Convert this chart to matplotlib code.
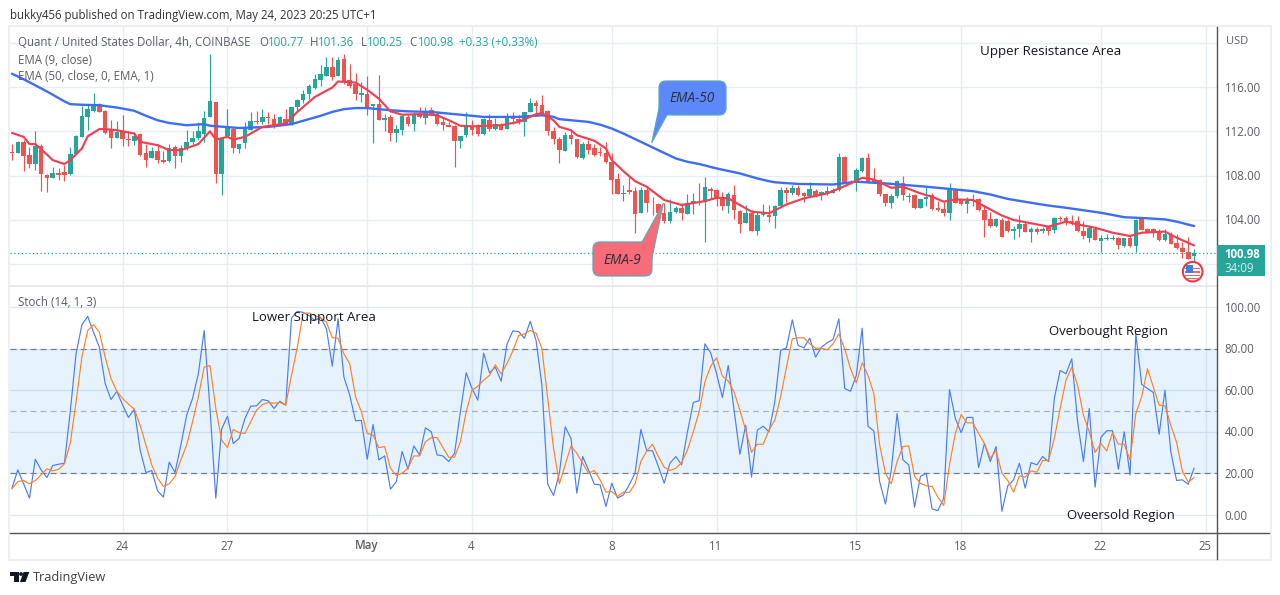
import matplotlib
matplotlib.use("Agg")
import matplotlib.pyplot as plt
from matplotlib.patches import FancyBboxPatch, Polygon, Circle, Rectangle

# candles, 4h
open_px = [110.15,110.05,111,109.85,109.05,110.7,108.05,107.75,108.2,108.3,
    108.15,109.95,111.5,113.25,113.85,114.45,113.85,112.15,111.4,112,
    111.3,111.15,111.8,110,109.6,110.2,109.45,109.35,110.6,109.8,
    110.5,111,111.4,111.8,113.3,114.65,108.15,111.55,112.25,110.4,
    110.95,112.15,112.9,112.8,113.25,113.15,112.65,113.15,112.7,114.15,
    114.8,115.35,115.9,116.6,116.95,117.85,116.95,118.55,116.65,116.25,
    115.3,115.4,114.25,114.45,113.05,113.25,111.85,112.15,113.3,112.65,
    113.6,113.2,113.9,113.55,112.85,112.55,112.45,111.1,111.65,112.45,
    112.4,111.75,113.05,112.25,112.55,112.2,113.2,113.15,112.85,113.75,
    114.6,114.35,113.85,112,111.35,110.25,111.65,111.3,109.55,110.9,
    110.45,110.15,110,109.25,107.7,106.3,106.7,106.6,104.6,106.7,
    105.45,105.45,104.6,103.95,104.75,105.1,104.55,105.55,105.65,105.6,
    106.8,106.7,106.1,105.3,106.25,104.8,103.75,104.65,103,104.45,
    104.45,104.4,105.3,106.7,106.45,106.85,106.4,106.15,106.6,106.25,
    106.35,106.45,106.7,109.7,107.45,107.3,108.45,109.55,107.6,107.6,
    106.3,105.55,106.15,107.35,106.1,106.25,105.1,105.85,106.25,105.1,
    104.95,104.6,106.75,105.8,105.4,105.7,105.85,104.9,104.1,103.45,
    104,103.95,103,103.15,103.65,102.95,103.15,103,103.35,103.05,
    104.15,104.15,103.9,103.9,103,102.4,103.15,102.1,102.3,102.3,
    102.35,101.65,102.4,101.65,104.05,103.2,103.15,102.9,102.15,102.6,
    101.95,101.5,101.15,100.77]
high_px = [110.9,111.1,111.2,110.6,112,110.9,108.15,108.75,108.65,108.95,
    110.6,111.65,114.25,114.4,115.5,114.55,113.9,113,112.95,113.5,
    112,111.95,111.85,110.85,110.6,110.85,110.25,110.85,110.8,110.8,
    112.1,112,112.85,113.8,119,114.65,111.4,114,112.4,110.9,
    112.8,113.75,113.8,114,113.75,113.6,113.4,114,114.2,114.95,
    115.7,116.3,117.15,117.95,118.7,118.7,118.75,119,118.1,117.25,
    116.45,116.95,114.5,117.05,113.6,113.45,112.55,113.45,113.45,113.7,
    114.2,114.15,114.15,113.75,113.25,112.85,112.55,111.55,113.7,113,
    112.7,113.2,113.6,113.2,112.75,113.65,113.75,113.45,113.7,115,
    114.8,115.25,113.9,112.4,111.5,111.95,112,111.35,111.05,111.2,
    110.9,110.6,111.05,110,108.2,107.15,107.9,107,107,107,
    106.1,105.5,105.5,105.85,105.3,105.5,106.35,106.4,107.3,107.9,
    107,106.75,106.55,106.55,107.15,104.9,105.35,104.9,104.75,105.4,
    105.35,105.35,107,107,107.15,107.15,106.5,107.45,106.75,106.6,
    107.05,106.85,110,109.8,107.6,108.65,109.65,110.05,108.7,107.7,
    106.35,106.3,107.6,107.95,106.45,106.35,105.9,107,106.4,105.7,
    105.6,107.3,106.9,105.9,106.1,106.3,105.95,105.35,104.7,104.2,
    104.2,104.05,103.45,104.45,103.9,103.35,103.35,103.35,103.5,104.3,
    104.35,104.35,104.45,104.4,103.9,103.55,103.35,102.6,102.75,102.6,
    102.5,102.4,102.6,104.05,104.25,103.3,103.25,103.15,103.15,102.9,
    102.75,102,102.45,101.36]
low_px = [109.45,110.05,108.4,108.65,108.5,106.6,106.55,107.75,107.6,107.5,
    108.05,109.95,111.45,112.15,113.75,113.7,111.8,110.5,111.4,110.7,
    110.7,110.75,109.8,108.8,109.6,109.1,109.1,109.2,108.7,109.25,
    110.3,110.9,111.2,111.05,113.3,107.35,106.25,111.55,110.05,110.05,
    110.45,112.1,112.7,112.7,112.7,112.3,112.45,112.55,112.55,113.75,
    114.55,114.95,115.85,116.05,116.95,116.65,116.95,116.3,115.95,114.8,
    114.65,113.45,110.95,113,112.05,111.1,111.05,111.65,112.45,112.05,
    113.2,112.7,113.45,112.55,112.1,112.35,108.8,110.5,111.5,111.65,
    111.6,111.65,112,112.15,112.1,112.2,112.7,112.7,111.6,113.75,
    113.6,113.6,111.65,110.9,109.15,110.25,110.85,109.6,109.5,109.95,
    109.8,109.75,109.15,106.3,106.35,105.75,106.35,102.8,104.6,104.75,
    104.45,104.45,103.75,103.75,104.6,104,104.55,104.55,105.35,102.05,
    106,105.25,104.9,104.6,104.1,102.85,103.7,103,102.65,104.4,
    103.85,103.3,105.25,105.6,106.25,106.15,105.65,106.15,106.1,105.8,
    106.25,106.4,106.65,107.3,107.25,106.6,108.35,107.35,107.3,106.15,
    105.3,105.1,105.95,105.8,105.6,105,105.05,105.25,104.9,104.85,
    104.35,104,105.5,105.35,104.6,105.3,104.85,102.5,103.4,103.35,
    102.5,102.95,102.3,102.5,102.9,102,102.7,102.85,102.6,102.8,
    103.95,103.55,103.55,102.95,102.25,102,102.15,101.1,102.2,102.2,
    101.35,101.6,101.6,101.1,103.05,102.85,102.45,102.1,102.1,101.8,
    101.35,100.6,100.5,100.25]
close_px = [110.05,111,109.75,109.05,110.7,108.15,107.75,108.2,108.05,108.05,
    109.95,111.55,113.35,114,114.45,113.75,111.85,111.4,111.95,111.3,
    111.2,111.55,109.85,109.4,110.2,109.4,109.2,110.45,109.75,110.5,
    111,111.4,112,113.2,114.7,108.15,111.4,112.3,110.5,110.85,
    112.2,112.9,112.8,113.25,113.2,112.6,113.3,112.7,114.15,114.8,
    115.35,116.05,116.75,117.2,117.85,116.9,118.4,116.55,116.05,115.35,
    115.5,114.15,114.45,113,113.2,111.85,112.2,113.4,112.65,113.6,
    113.25,113.8,113.55,112.65,112.6,112.4,111.1,111.55,112.55,112.15,
    111.75,113.1,112.25,112.7,112.15,113.25,113.1,112.95,113.7,114.6,
    114.3,113.65,112,111.3,110.3,111.7,111.3,109.65,110.85,110.3,
    109.85,110,109.25,107.6,106.35,106.45,106.55,104.55,106.7,105.5,
    105.4,104.6,103.95,104.7,105.1,104.6,105.55,105.7,105.5,106.95,
    106.65,105.95,105.25,106.35,104.9,103.65,104.6,103,104.45,104.55,
    104.3,105.25,106.7,106.45,106.85,106.25,106.15,106.8,106.15,106.5,
    106.6,106.7,109.65,107.3,107.3,108.5,109.6,107.45,107.35,106.3,
    105.55,106.15,107.5,106.25,106.2,105.1,105.85,106.05,105,104.9,
    104.65,106.85,105.5,105.4,105.7,105.75,104.9,104,103.5,104.05,
    102.5,103,103.2,103.6,102.95,103.2,102.95,103.15,103,104.15,
    104.1,103.9,103.85,103,102.55,103.3,102.2,102.35,102.4,102.4,
    101.7,102.35,101.65,104,103.1,102.9,102.85,102.15,102.7,101.85,
    101.45,101.1,100.5,100.98]

# moving averages, read at the bends only
ema9_idx = [0,2,3,4,6,7,9,10,12,13,15,16,18,21,22,25,27,29,32,34,35,37,38,40,43,47,49,52,55,56,59,61,63,65,67,
    70,73,75,77,79,84,87,90,91,93,94,96,97,100,102,103,105,107,109,112,115,119,121,123,125,127,130,133,136,140,
    143,146,148,151,153,156,158,160,162,165,168,170,172,175,178,181,183,186,189,192,194,198,200,203]
ema9_val = [111.85,111.5,110.85,110.85,109.9,109.4,109.05,109.4,110.45,111.55,112.2,112.2,112.1,111.8,111.05,110.75,110.3,110.3,110.85,112,111.25,111.5,111.25,111.5,112.4,112.7,113.75,115.1,115.95,116.5,116.4,115.75,114.95,113.8,113.5,
    113.55,113.45,113,112.5,112.45,112.55,112.85,113.55,113.65,113,112.4,112.1,111.65,111.15,110.45,109.4,108.4,107.5,107,105.8,105.35,105.7,106,105.95,105.35,104.75,104.6,105.4,105.95,106.4,
    107.05,107.8,107.65,106.9,107,106.4,106.1,105.65,105.85,105.8,104.95,104.4,104,103.7,103.4,103.85,103.6,103.3,102.85,102.55,102.85,102.95,102.4,101.7]
ema50_idx = [0,2,4,6,8,9,10,12,15,18,21,23,25,27,30,33,34,39,44,48,50,53,55,57,59,61,63,65,
    68,72,76,81,87,91,93,94,96,99,101,103,105,107,110,114,116,118,121,125,128,130,131,135,141,
    145,150,157,165,168,171,175,178,181,187,191,195,198,200,203]
ema50_val = [117.2,116.7,116.15,115.6,115,114.7,114.45,114.4,114.35,114.15,113.85,113.4,113,112.75,112.55,112.65,112.5,112.3,112.4,112.65,112.95,113.4,113.75,114,114.1,114.1,114,113.9,
    113.8,113.75,113.55,113.3,113.3,113.45,113.3,113.1,113,112.85,112.6,112.25,111.8,111.3,110.55,109.55,109.25,109.05,108.65,108.2,107.75,107.5,107.4,107.25,107.2,
    107.45,107.3,107,106.6,106.3,105.9,105.55,105.3,105.1,104.65,104.25,104.15,104.05,103.85,103.45]

stoch_k = [12.9,21.7,15,8.1,26.8,21.7,18,23.8,24.4,24.9,49.6,77.5,91.4,95.5,87.9,80.7,63.2,55.5,59.5,52.8,
    46.9,50.9,31.3,20.4,21.4,11.6,8.6,25.4,20.4,33.7,48,56,67.9,88.7,51.2,8.1,41.3,47.5,34.4,36.8,
    46.4,52.3,52.5,55.5,54.9,51.2,54.7,52.8,94.7,97.9,97.4,95.9,93.5,95.1,89.5,71.6,94.3,66.3,57.6,45.3,
    45.5,26.8,43.5,26.5,28.4,12.4,16.1,30.5,22,33.2,28.9,41.9,40,28.9,28.4,25.7,29.7,49.6,68.4,60.8,
    55.2,77.8,68.4,71.1,64.3,82,88.5,88.2,85,93.1,83.9,62.4,14.8,9.4,20.1,42.4,36.8,10.5,28.1,21.7,
    14.8,14.5,4.1,15.3,8.1,9.7,14.5,20.1,41.1,30.9,30.9,23.3,15.3,24.9,28.1,24.1,40,54.1,54.9,82.3,
    77.8,67.9,56.5,71.9,50.4,29.2,43.2,18.2,40.8,42.7,40,54.4,79.1,80.4,93.8,81.5,80.4,85,75.9,80.7,
    82.8,84.4,94.3,60.8,59.5,67.1,89.8,42.7,40.4,16.1,5.3,21.7,48.8,26.5,24.1,3.8,18.5,20.1,3,2.1,
    8.1,60.3,46.4,39.6,46.9,46.9,22.8,34.4,25.7,32.9,1.8,14,16.9,24.9,12.9,25.2,24.1,28.1,25.7,56,
    69.5,67.9,75.1,44.8,25.7,51.2,13.4,37.3,40.5,40.5,22,40,19.3,87.1,62.8,60.8,58.9,38.8,60,30.5,
    16.6,16.9,14.8,22.5]
stoch_d = [12.6,16.1,16.6,15,16.6,19.3,22.2,21.2,22,24.6,34.4,54.4,75.9,88.7,91.5,87.9,75.9,65.6,59.5,56,
    53.3,50.9,43.2,33.7,24.1,17.7,13.7,15,18.5,26.5,33.7,44.8,56.8,71.1,71.9,51.2,36,32.5,41.1,39.6,
    39.2,44.8,50.4,53.1,54.1,53.7,54.1,52.8,67.1,80.7,97,97.1,95.9,94.7,92.7,85.2,85,77.5,72.7,56.8,
    49.6,39.2,38.4,32.4,32.9,22.5,19,20.1,22.5,28.4,28.4,35.2,37.2,37.2,32.5,27.8,27.8,35.2,49.6,60,
    61.9,64.8,67.1,72.2,67.9,72.7,78.8,86.3,87.1,88.7,87.4,79.9,56,32.1,15,24.1,33.2,29.7,24.9,20.1,
    21.4,16.9,11,11.3,8.9,11,10.8,15,25.7,30.8,34,28.1,23,21.4,22.5,25.2,31.3,40,49.6,64,
    71.6,75.6,66.8,64.4,59.2,50.4,40.8,30.1,34,34,40.8,45.6,56.8,71.1,84.7,85.2,85.2,82.3,80.2,80.2,
    79.4,82.3,87.1,79.9,70.3,63.5,73.2,67.1,58.4,33.7,20.1,15,25.7,32.9,33.2,18.5,15.3,14,13.7,8.6,
    4.6,24.1,39.2,48.3,44.3,44.3,39.2,34.4,27.3,30.9,20.1,16.6,11,18.8,18.2,21.2,20.6,26.2,26.2,36.8,
    51.2,64.8,71.1,62.4,48,40,30.1,34.4,30.8,39.6,34.1,34,26.5,48.8,56.8,70.3,61.6,52.8,52.5,43.2,
    34.9,20.9,15.8,18]

date_idx = [19,37,61,79,103,121,145,163,187,205]
date_labels = ["24","27","May","4","8","11","15","18","22","25"]
price_ticks = [116,112,108,104]
price_grid = [120,116,112,108,104,100]
stoch_ticks = [100,80,60,40,20,0]
last_price = 100.98

W, H = 1280, 595
GREEN, RED = "#26a69a", "#ef5350"
GRID = "#e6eef5"
TXT = "#5a5d68"
FS = 8.3
plt.rcParams["font.family"] = "Open Sans"


def px_axes(fig, x0, y0, x1, y1):
    return fig.add_axes([x0 / W, 1 - y1 / H, (x1 - x0) / W, (y1 - y0) / H])


fig = plt.figure(figsize=(12.8, 5.95), dpi=100)

# panes
ax = px_axes(fig, 10, 27, 1217, 285)
ax2 = px_axes(fig, 10, 286, 1217, 532)
for a in (ax, ax2):
    a.set_xlim((10 - 12) / 5.823, (1217 - 12) / 5.823)
    a.set_xticks([])
    a.set_yticks([])
    for s in a.spines.values():
        s.set_visible(False)
    for d in date_idx:
        a.axvline(d, color=GRID, lw=1, zorder=0)
ax.set_ylim(116 - (285 - 87) / 11.08, 116 + (87 - 27) / 11.08)
ax2.set_ylim(0 - (532 - 515) / 2.08, 100 + (307 - 286) / 2.08)

# price pane
for p in price_grid:
    ax.axhline(p, color=GRID, lw=1, zorder=0)
idx = range(len(open_px))
cols = [GREEN if c >= o else RED for o, c in zip(open_px, close_px)]
ax.vlines(idx, low_px, high_px, colors=cols, lw=0.85, zorder=2)
ax.bar(idx, [c - o for o, c in zip(open_px, close_px)], bottom=open_px, width=0.78, color=cols, zorder=3, linewidth=0)
ax.plot(ema50_idx, ema50_val, color="#3d6ef2", lw=1.7, zorder=4, solid_capstyle="round", solid_joinstyle="round")
ax.plot(ema9_idx, ema9_val, color="#f23f50", lw=1.55, zorder=5, solid_capstyle="round", solid_joinstyle="round")
ax.axhline(last_price, color=GREEN, lw=0.9, ls=(0, (1, 2)), zorder=4)

# stochastic pane
for v in stoch_ticks:
    ax2.axhline(v, color="#dde8f2", lw=1, zorder=0)
ax2.axhspan(20, 80, color="#2196f3", alpha=0.11, lw=0, zorder=1)
ax2.axhline(80, color="#787b86", lw=0.85, ls=(0, (5, 3.5)), zorder=2)
ax2.axhline(50, color="#787b86", lw=0.85, ls=(0, (5, 3.5)), alpha=0.55, zorder=2)
ax2.axhline(20, color="#787b86", lw=0.85, ls=(0, (5, 3.5)), zorder=2)
ax2.plot(idx, stoch_k, color="#4a7cf6", lw=0.85, zorder=4)
ax2.plot(idx, stoch_d, color="#ff8126", lw=0.85, zorder=5)

# everything else goes on a pixel overlay
ov = fig.add_axes([0, 0, 1, 1], facecolor="none")
ov.set_xlim(0, W)
ov.set_ylim(H, 0)
ov.axis("off")

# frame
frame = "#eceff4"
ov.add_patch(Rectangle((9, 26), 1261.5, 534, fill=False, ec=frame, lw=1.5, zorder=1))
ov.plot([10, 1217], [285.5, 285.5], color="#e6e9f0", lw=1.4, zorder=1)
ov.plot([1216.7, 1216.7], [27, 559], color="#50535e", lw=1.0, zorder=2)
ov.plot([10, 1269], [532.5, 532.5], color="#50535e", lw=1.0, zorder=2)

ov.text(10, 15, "bukky456 published on TradingView.com, May 24, 2023 20:25 UTC+1", fontsize=FS, color="#30333b", va="center")

# legend rows
ov.text(18, 43, "Quant / United States Dollar, 4h, COINBASE", fontsize=FS, color=TXT, va="center", zorder=6)
for lx, vx, lab, val in [(259, 268, "O", "100.77"), (310, 318, "H", "101.36"), (361, 367, "L", "100.25"), (409, 418, "C", "100.98")]:
    ov.text(lx, 43, lab, fontsize=FS, color=TXT, va="center", zorder=6)
    ov.text(vx, 43, val, fontsize=FS, color=GREEN, va="center", zorder=6)
ov.text(459, 43, "+0.33 (+0.33%)", fontsize=FS, color=GREEN, va="center", zorder=6)
ov.text(18, 60, "EMA (9, close)", fontsize=FS, color=TXT, va="center", zorder=6)
ov.text(18, 77, "EMA (50, close, 0, EMA, 1)", fontsize=FS, color=TXT, va="center", zorder=6)
ov.text(18, 302, "Stoch (14, 1, 3)", fontsize=FS, color=TXT, va="center", zorder=6)

# price scale
ov.text(1226, 41, "USD", fontsize=8.0, color=TXT, va="center")
for p in price_ticks:
    ov.text(1224.5, 88 + (116 - p) * 11.08, "%.2f" % p, fontsize=FS, color=TXT, va="center")
for v in stoch_ticks:
    ov.text(1224.5, 516 - v * 2.08, "%.2f" % v, fontsize=FS, color=TXT, va="center")
ov.add_patch(Rectangle((1217, 245), 48, 31, fc=GREEN, ec="none", zorder=3))
ov.text(1224, 255, "%.2f" % last_price, fontsize=FS, color="white", fontweight="bold", va="center", zorder=4)
ov.text(1224, 269, "34:09", fontsize=FS, color="#d5efec", va="center", zorder=4)

# date scale
for d, lab in zip(date_idx, date_labels):
    ov.text(11.5 + d * 5.823, 546, lab, fontsize=FS, color=TXT, ha="center", va="center",
            fontweight="semibold" if lab == "May" else "normal")

# area notes
note = "#131722"
ov.text(980, 51, "Upper Resistance Area", fontsize=9.6, color=note, va="center", zorder=6)
ov.text(252, 318, "Lower Support Area", fontsize=9.5, color=note, va="center", zorder=6)
ov.text(1049, 332, "Overbought Region", fontsize=9.45, color=note, va="center", zorder=6)
ov.text(1067, 515, "Oveersold Region", fontsize=9.45, color=note, va="center", zorder=6)


def callout(x0, y0, x1, y1, tail, fc, label):
    edge = "#5aa9bd"
    ov.add_patch(FancyBboxPatch((x0 + 5, y0 + 5), x1 - x0 - 10, y1 - y0 - 10, boxstyle="round,pad=5,rounding_size=7",
                                fc=fc, ec=edge, lw=0.9, zorder=7))
    ov.add_patch(Polygon(tail, closed=True, fc=fc, ec="none", zorder=8))
    ov.plot([tail[0][0], tail[1][0], tail[2][0]], [tail[0][1], tail[1][1], tail[2][1]], color=edge, lw=0.8, zorder=8)
    ov.text((x0 + x1) / 2, (y0 + y1) / 2 + 1, label, fontsize=9.8, style="italic", color="#2a2e39", ha="center", va="center", zorder=9)


callout(659, 81, 726, 115, [(659, 108), (651.7, 142.7), (667, 115)], "#5c88fa", "EMA-50")
callout(593, 242, 652, 276, [(642, 242), (663.3, 203.5), (652, 258)], "#f86b78", "EMA-9")

# flag badge next to the last candle
ov.add_patch(Circle((1192.7, 271.7), 9.8, fc="white", ec="#f23645", lw=1.5, zorder=5))
for sy, sh in [(267.5, 1.6), (271, 1.6), (274.5, 1.6), (277.5, 1.2)]:
    ov.add_patch(Rectangle((1185, sy), 15.4, sh, fc="#f0626b", ec="none", zorder=6))
ov.add_patch(Rectangle((1185.5, 265), 7.5, 7.5, fc="#3f80d8", ec="none", zorder=7))

# TradingView logo
dark = "#131722"
ov.add_patch(Polygon([(10, 572), (18.5, 572), (18.5, 582), (14, 582), (14, 575.5), (10, 575.5)], closed=True, fc=dark, ec="none"))
ov.add_patch(Circle((21, 574), 1.9, fc=dark, ec="none"))
ov.add_patch(Polygon([(23.5, 572), (29.3, 572), (25.5, 582), (20, 582)], closed=True, fc=dark, ec="none"))
ov.text(33, 578, "TradingView", fontsize=9.2, color="#3c3f47", va="center")

fig.savefig("out.png", dpi=100)
